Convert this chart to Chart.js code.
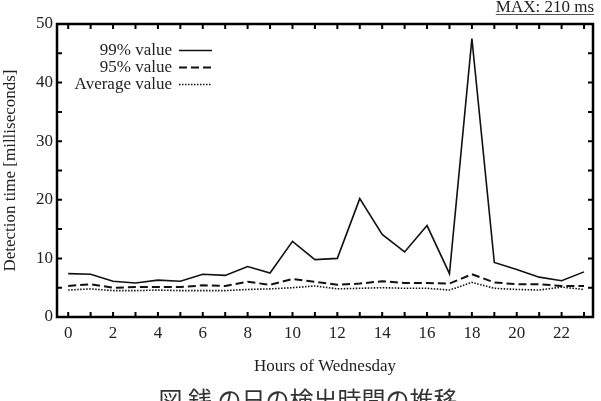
<!DOCTYPE html>
<html>
<head>
<meta charset="utf-8">
<script src="https://cdn.jsdelivr.net/npm/chart.js@4"></script>
<style>
  html, body { margin: 0; padding: 0; background: #fff; }
  #wrap { width: 601px; height: 401px; }
</style>
</head>
<body>
<div id="wrap"><canvas id="chart" width="601" height="401"></canvas></div>
<script>
const hours = [0, 1, 2, 3, 4, 5, 6, 7, 8, 9, 10, 11, 12, 13, 14, 15, 16, 17, 18, 19, 20, 21, 22, 23];
const p99 = [7.4, 7.3, 6.1, 5.8, 6.3, 6.1, 7.3, 7.1, 8.6, 7.5, 12.9, 9.8, 10.0, 20.2, 14.1, 11.1, 15.6, 7.4, 47.5, 9.3, 8.1, 6.8, 6.2, 7.7];
const p95 = [5.3, 5.6, 5.0, 5.1, 5.1, 5.1, 5.4, 5.3, 6.0, 5.5, 6.5, 6.0, 5.5, 5.7, 6.1, 5.8, 5.8, 5.7, 7.3, 5.9, 5.6, 5.6, 5.3, 5.3];
const avg = [4.6, 4.8, 4.5, 4.5, 4.6, 4.5, 4.5, 4.5, 4.7, 4.8, 5.0, 5.3, 4.8, 4.9, 5.0, 4.9, 4.9, 4.6, 5.9, 4.9, 4.7, 4.6, 5.1, 4.7];
const seriesLabels = ["99% value", "95% value", "Average value"];
const yTicks = [0, 5, 10, 15, 20, 25, 30, 35, 40, 45, 50];
const maxNote = "MAX: 210 ms";
const caption = "図 銭 の日の検出時間の推移";

const serif = "'Liberation Serif', 'DejaVu Serif', serif";
const ink = "#222";

function pts(vals) {
  return vals.map((v, i) => ({ x: hours[i], y: v }));
}

// frame, inward ticks, legend and notes
const decor = {
  id: "decor",
  afterDraw(chart) {
    const ctx = chart.ctx;
    const a = chart.chartArea;
    const xs = chart.scales.x, ys = chart.scales.y;
    ctx.save();
    ctx.strokeStyle = "#000";
    ctx.lineWidth = 2.5;
    ctx.strokeRect(a.left, a.top, a.right - a.left, a.bottom - a.top);

    ctx.lineWidth = 2;
    ctx.beginPath();
    xs.ticks.forEach(t => {
      const x = xs.getPixelForValue(t.value);
      ctx.moveTo(x, a.bottom); ctx.lineTo(x, a.bottom - 5);
      ctx.moveTo(x, a.top); ctx.lineTo(x, a.top + 5);
    });
    ys.ticks.forEach(t => {
      const y = ys.getPixelForValue(t.value);
      ctx.moveTo(a.left, y); ctx.lineTo(a.left + 5, y);
      ctx.moveTo(a.right, y); ctx.lineTo(a.right - 5, y);
    });
    ctx.stroke();

    // legend, text right aligned with sample line after it
    ctx.font = "17px " + serif;
    ctx.fillStyle = ink;
    ctx.textAlign = "right";
    ctx.textBaseline = "middle";
    chart.data.datasets.forEach((ds, i) => {
      const y = 50.5 + i * 17;
      ctx.fillText(ds.label, 172, y);
      ctx.save();
      ctx.strokeStyle = ds.borderColor;
      ctx.lineWidth = ds.borderWidth;
      ctx.setLineDash(ds.borderDash || []);
      ctx.beginPath();
      ctx.moveTo(179, y); ctx.lineTo(212, y);
      ctx.stroke();
      ctx.restore();
    });

    // max note, underlined
    ctx.font = "17px " + serif;
    ctx.textAlign = "right";
    ctx.textBaseline = "alphabetic";
    ctx.fillText(maxNote, 594, 11.5);
    const w = ctx.measureText(maxNote).width;
    ctx.lineWidth = 1;
    ctx.strokeStyle = "#555";
    ctx.beginPath();
    ctx.moveTo(594 - w, 14.5); ctx.lineTo(594, 14.5);
    ctx.stroke();

    // caption, cut off at the bottom edge
    ctx.font = "24px 'Noto Sans CJK JP', sans-serif";
    ctx.textAlign = "center";
    ctx.fillStyle = "#333";
    ctx.fillText(caption, 308, 409);
    ctx.restore();
  }
};

new Chart(document.getElementById("chart"), {
  type: "line",
  data: {
    datasets: [
      { label: seriesLabels[0], data: pts(p99), borderColor: "#111", borderWidth: 1.6, pointRadius: 0, tension: 0 },
      { label: seriesLabels[1], data: pts(p95), borderColor: "#111", borderWidth: 2, borderDash: [8, 4], pointRadius: 0, tension: 0 },
      { label: seriesLabels[2], data: pts(avg), borderColor: "#111", borderWidth: 1.6, borderDash: [1.5, 1.5], pointRadius: 0, tension: 0 }
    ]
  },
  options: {
    responsive: false,
    animation: false,
    events: [],
    layout: { padding: { top: 24, right: 8, left: 0, bottom: 0 } },
    plugins: { legend: { display: false }, tooltip: { enabled: false } },
    scales: {
      x: {
        type: "linear",
        min: -0.5,
        max: 23.4,
        afterBuildTicks: s => { s.ticks = hours.map(h => ({ value: h })); },
        afterFit: s => { s.height = 84; },
        grid: { display: false, drawTicks: false },
        border: { display: false },
        ticks: {
          autoSkip: false,
          maxRotation: 0,
          padding: 6,
          color: ink,
          font: { family: serif, size: 17 },
          callback: v => (v % 2 === 0 ? String(v) : "")
        },
        title: {
          display: true,
          text: "Hours of Wednesday",
          color: ink,
          font: { family: serif, size: 17 },
          padding: { top: 0, bottom: 24 }
        }
      },
      y: {
        min: 0,
        max: 50,
        afterBuildTicks: s => { s.ticks = yTicks.map(v => ({ value: v })); },
        afterFit: s => { s.width = 57; },
        grid: { display: false, drawTicks: false },
        border: { display: false },
        ticks: {
          padding: 4,
          color: ink,
          font: { family: serif, size: 17 },
          callback: v => (v % 10 === 0 ? String(v) : "")
        },
        title: {
          display: true,
          text: "Detection time [milliseconds]",
          color: ink,
          font: { family: serif, size: 17 },
          padding: 0
        }
      }
    }
  },
  plugins: [decor]
});
</script>
</body>
</html>
